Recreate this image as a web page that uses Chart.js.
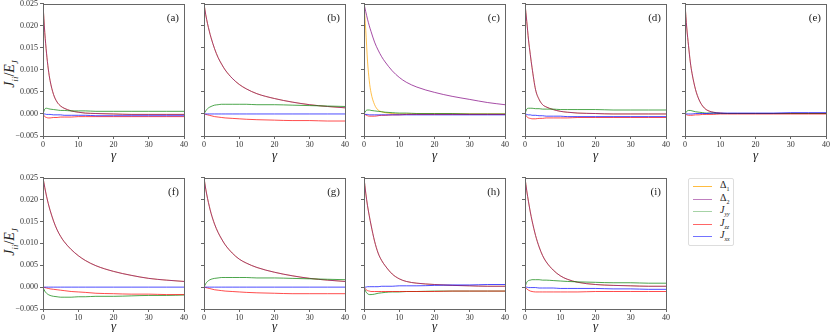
<!DOCTYPE html>
<html>
<head>
<meta charset="utf-8">
<script src="https://cdn.jsdelivr.net/npm/chart.js@4"></script>
<style>
  body { margin: 0; width: 830px; height: 332px; background: #fff; position: relative; overflow: hidden; font-family: "Liberation Serif", "DejaVu Serif", serif; }
  canvas { position: absolute; }
  .ylab { position: absolute; width: 70px; height: 16px; line-height: 16px; text-align: center; font-size: 14px; transform: rotate(-90deg); transform-origin: center; color: #222; }
  .ylab sub { font-size: 9px; }
  #legend { position: absolute; left: 688px; top: 178px; width: 44px; height: 66px; border: 1px solid #ddd; border-radius: 2px; font-size: 10px; color: #222; }
  #legend .row { position: absolute; left: 4px; height: 12px; width: 40px; }
  #legend .swatch { position: absolute; left: 0; top: 6px; width: 19px; height: 1px; }
  #legend .txt { position: absolute; left: 27px; top: -1px; line-height: 12px; white-space: nowrap; }
  #legend sub { font-size: 6px; }
</style>
</head>
<body>
<div class="ylab" style="left:-25px; top:66px;"><i>J<sub>ii</sub></i>/<i>E<sub>J</sub></i></div>
<div class="ylab" style="left:-25px; top:234px;"><i>J<sub>ii</sub></i>/<i>E<sub>J</sub></i></div>
<div id="legend"></div>
<script>
// gamma sample points (x axis)
const gamma = [0, 0.5, 1, 1.5, 2, 3, 4, 5, 6, 8, 10, 12, 15, 20, 25, 30, 35, 40];

const panelLabels = ['(a)', '(b)', '(c)', '(d)', '(e)', '(f)', '(g)', '(h)', '(i)'];
const seriesNames = ['Δ1', 'Δ2', 'Jyy', 'Jzz', 'Jxx'];
const seriesColors = ['rgba(255,165,0,0.7)', 'rgba(128,0,128,0.7)', 'rgba(0,128,0,0.7)', 'rgba(255,0,0,0.7)', 'rgba(0,0,255,0.7)'];
const legendColors = ['rgba(255,165,0,0.75)', 'rgba(128,0,128,0.5)', 'rgba(0,128,0,0.35)', 'rgba(255,0,0,0.6)', 'rgba(0,0,255,0.55)'];

const flatZero = [0, 0, 0, 0, 0, 0, 0, 0, 0, 0, 0, 0, 0, 0, 0, 0, 0, 0];

// (a)
const aDelta = [0.025, 0.0185, 0.0138, 0.0102, 0.0076, 0.0044, 0.0027, 0.0018, 0.0013, 0.0007, 0.0004, 0.0002, 0.0001, 0.0, -0.0001, -0.0001, -0.0001, -0.0001];
const aJyy = [0, 0.0011, 0.0013, 0.0012, 0.0011, 0.001, 0.0009, 0.0008, 0.0008, 0.0007, 0.0007, 0.0007, 0.0006, 0.0006, 0.0006, 0.0006, 0.0006, 0.0006];
const aJzz = [0, -0.0006, -0.0008, -0.0009, -0.0009, -0.0008, -0.0008, -0.0007, -0.0007, -0.0007, -0.0006, -0.0006, -0.0006, -0.0006, -0.0006, -0.0006, -0.0006, -0.0006];
const aJxx = [0, 0, -0.0001, -0.0001, -0.0001, -0.0002, -0.0002, -0.0002, -0.0003, -0.0003, -0.0003, -0.0003, -0.0004, -0.0004, -0.0004, -0.0004, -0.0004, -0.0004];
// (b)
const bDelta = [0.025, 0.0225, 0.0205, 0.0188, 0.0173, 0.0148, 0.0128, 0.0113, 0.01, 0.0081, 0.0067, 0.0057, 0.0046, 0.0035, 0.0027, 0.0021, 0.0017, 0.0014];
const bJyy = [0, 0.0007, 0.0012, 0.0015, 0.0017, 0.002, 0.0021, 0.0022, 0.0022, 0.0022, 0.0022, 0.0022, 0.0021, 0.0021, 0.002, 0.0019, 0.0018, 0.0017];
const bJzz = [0, -0.0001, -0.0002, -0.0003, -0.0004, -0.0006, -0.0007, -0.0008, -0.0009, -0.001, -0.0011, -0.0012, -0.0013, -0.0014, -0.0015, -0.0015, -0.0016, -0.0016];
// (c)
const cDelta1 = [0.025, 0.019, 0.012, 0.0075, 0.0048, 0.0021, 0.0009, 0.0005, 0.0003, 0.0001, 0, 0, 0, 0, 0, 0, 0, 0];
const cDelta2 = [0.025, 0.0232, 0.0215, 0.02, 0.0187, 0.0163, 0.0145, 0.013, 0.0118, 0.0098, 0.0083, 0.0072, 0.0061, 0.0049, 0.004, 0.0033, 0.0026, 0.0021];
const cJyy = [0, 0.0007, 0.0009, 0.0009, 0.0008, 0.0007, 0.0006, 0.0005, 0.0004, 0.0003, 0.0002, 0.0002, 0.0001, 0.0001, 0.0001, 0, 0, 0];
const cJzz = [0, -0.0002, -0.0004, -0.0005, -0.0005, -0.0005, -0.0004, -0.0003, -0.0003, -0.0002, -0.0002, -0.0001, -0.0001, -0.0001, -0.0001, -0.0001, -0.0001, -0.0001];
const cJxx = [0, -0.0001, -0.0001, -0.0002, -0.0002, -0.0002, -0.0002, -0.0002, -0.0002, -0.0002, -0.0002, -0.0002, -0.0002, -0.0002, -0.0002, -0.0002, -0.0002, -0.0002];
// (d)
const dDelta = [0.025, 0.021, 0.0168, 0.0135, 0.0105, 0.0055, 0.0033, 0.0021, 0.0016, 0.001, 0.0006, 0.0004, 0.0002, 0.0001, 0, 0, 0, 0];
const dJyy = [0, 0.0011, 0.0013, 0.0013, 0.0013, 0.0012, 0.0012, 0.0011, 0.0011, 0.0011, 0.001, 0.001, 0.001, 0.001, 0.0009, 0.0009, 0.0009, 0.0009];
const dJzz = [0, -0.0006, -0.0009, -0.001, -0.0011, -0.0011, -0.001, -0.001, -0.0009, -0.0009, -0.0009, -0.0009, -0.0008, -0.0008, -0.0008, -0.0008, -0.0008, -0.0008];
const dJxx = [0, -0.0001, -0.0002, -0.0002, -0.0003, -0.0003, -0.0004, -0.0004, -0.0005, -0.0005, -0.0005, -0.0006, -0.0006, -0.0006, -0.0006, -0.0006, -0.0006, -0.0006];
// (e)
const eDelta = [0.025, 0.0195, 0.0155, 0.0118, 0.0092, 0.0055, 0.0032, 0.0018, 0.001, 0.0004, 0.0002, 0.0001, 0.0001, 0.0001, 0.0001, 0.0001, 0.0001, 0.0001];
const eJyy = [0, 0.0006, 0.0008, 0.0008, 0.0007, 0.0005, 0.0004, 0.0003, 0.0002, 0.0002, 0.0001, 0.0001, 0.0001, 0.0001, 0.0001, 0.0001, 0.0001, 0.0001];
const eJzz = [0, -0.0002, -0.0003, -0.0003, -0.0003, -0.0002, -0.0002, -0.0001, -0.0001, -0.0001, 0, 0, 0, 0, 0, 0, 0, 0];
const eJxx = [0, 0, 0, 0, 0, 0.0001, 0.0001, 0.0001, 0.0001, 0.0002, 0.0002, 0.0002, 0.0002, 0.0002, 0.0002, 0.0003, 0.0003, 0.0003];
// (f)
const fDelta = [0.025, 0.0228, 0.0208, 0.0191, 0.0176, 0.0151, 0.0131, 0.0116, 0.0104, 0.0086, 0.0072, 0.0061, 0.0049, 0.0036, 0.0027, 0.002, 0.0016, 0.0013];
const fJyy = [0, -0.0009, -0.0014, -0.0017, -0.0019, -0.0021, -0.0022, -0.0023, -0.0023, -0.0023, -0.0022, -0.0022, -0.0021, -0.0021, -0.002, -0.0019, -0.0019, -0.0018];
const fJzz = [0, -0.0001, -0.0002, -0.0003, -0.0004, -0.0005, -0.0006, -0.0007, -0.0008, -0.001, -0.0011, -0.0012, -0.0014, -0.0015, -0.0016, -0.0016, -0.0017, -0.0017];
// (g)
const gDelta = [0.025, 0.0224, 0.0203, 0.0185, 0.0169, 0.0144, 0.0125, 0.011, 0.0097, 0.0078, 0.0064, 0.0055, 0.0045, 0.0034, 0.0026, 0.002, 0.0016, 0.0013];
const gJyy = [0, 0.0008, 0.0013, 0.0016, 0.0018, 0.002, 0.0021, 0.0022, 0.0022, 0.0022, 0.0022, 0.0022, 0.0021, 0.0021, 0.002, 0.0019, 0.0018, 0.0017];
const gJzz = [0, -0.0001, -0.0002, -0.0003, -0.0004, -0.0006, -0.0007, -0.0008, -0.0009, -0.001, -0.0011, -0.0012, -0.0013, -0.0014, -0.0015, -0.0015, -0.0015, -0.0015];
// (h)
const hDelta = [0.025, 0.0215, 0.0186, 0.0163, 0.0142, 0.0105, 0.0078, 0.0061, 0.0049, 0.003, 0.0019, 0.0013, 0.0009, 0.0006, 0.0004, 0.0003, 0.0002, 0.0002];
const hJyy = [0, -0.001, -0.0015, -0.0017, -0.0017, -0.0016, -0.0014, -0.0013, -0.0012, -0.0011, -0.0011, -0.001, -0.001, -0.0009, -0.0009, -0.0009, -0.0009, -0.0009];
const hJzz = [0, -0.0005, -0.0008, -0.0009, -0.001, -0.001, -0.001, -0.001, -0.001, -0.001, -0.001, -0.001, -0.001, -0.001, -0.0009, -0.0009, -0.0009, -0.0009];
const hJxx = [0, 0, 0.0001, 0.0001, 0.0001, 0.0001, 0.0001, 0.0002, 0.0002, 0.0002, 0.0003, 0.0003, 0.0003, 0.0004, 0.0005, 0.0005, 0.0006, 0.0006];
// (i)
const iDelta = [0.025, 0.022, 0.0195, 0.0172, 0.0152, 0.0118, 0.0092, 0.0072, 0.0058, 0.0039, 0.0026, 0.0018, 0.0011, 0.0006, 0.0004, 0.0003, 0.0002, 0.0002];
const iJyy = [0, 0.0011, 0.0015, 0.0016, 0.0017, 0.0017, 0.0017, 0.0016, 0.0016, 0.0015, 0.0014, 0.0013, 0.0012, 0.0011, 0.001, 0.001, 0.0009, 0.0009];
const iJzz = [0, -0.0004, -0.0007, -0.0009, -0.001, -0.0011, -0.0011, -0.0011, -0.0011, -0.0011, -0.0011, -0.0011, -0.0011, -0.001, -0.001, -0.001, -0.001, -0.001];
const iJxx = [0, 0, -0.0001, -0.0001, -0.0001, -0.0001, -0.0002, -0.0002, -0.0002, -0.0002, -0.0003, -0.0003, -0.0003, -0.0003, -0.0004, -0.0004, -0.0005, -0.0005];

// order per panel: Δ1, Δ2, Jyy, Jzz, Jxx
const panelSeries = [
  [aDelta, aDelta, aJyy, aJzz, aJxx],
  [bDelta, bDelta, bJyy, bJzz, flatZero],
  [cDelta1, cDelta2, cJyy, cJzz, cJxx],
  [dDelta, dDelta, dJyy, dJzz, dJxx],
  [eDelta, eDelta, eJyy, eJzz, eJxx],
  [fDelta, fDelta, fJyy, fJzz, flatZero],
  [gDelta, gDelta, gJyy, gJzz, flatZero],
  [hDelta, hDelta, hJyy, hJzz, hJxx],
  [iDelta, iDelta, iJyy, iJzz, iJxx]
];

const FONT = '"Liberation Serif", "DejaVu Serif", serif';
const AX = '#666';

// frame box + panel letter
const framePlugin = {
  id: 'frame',
  afterDraw(chart, args, opts) {
    const { ctx, chartArea: a } = chart;
    ctx.save();
    ctx.strokeStyle = AX;
    ctx.lineWidth = 1;
    ctx.strokeRect(Math.round(a.left) + 0.5, Math.round(a.top) + 0.5, Math.round(a.right - a.left), Math.round(a.bottom - a.top));
    ctx.fillStyle = '#222';
    ctx.font = '11px ' + FONT;
    ctx.textAlign = 'right';
    ctx.textBaseline = 'middle';
    ctx.fillText(opts.label, a.right - 5, a.top + 14);
    ctx.restore();
  }
};

const colLeft = [43, 203.5, 364, 524.5, 685];
const rowTop = [3, 177];
const plotW = 141, plotH = [133, 132];
const xAxisH = [27, 25];

panelSeries.forEach((series, p) => {
  const col = p < 5 ? p : p - 5;
  const row = p < 5 ? 0 : 1;
  const showY = col === 0;
  const cv = document.createElement('canvas');
  const W = 40 + plotW + 7, H = 6 + plotH[row] + xAxisH[row];
  cv.width = W; cv.height = H;
  cv.style.left = Math.round(colLeft[col] - 40) + 'px';
  cv.style.top = (rowTop[row] - 6) + 'px';
  document.body.appendChild(cv);

  const datasets = series.map((vals, s) => ({
    label: seriesNames[s],
    data: gamma.map((g, k) => ({ x: g, y: vals[k] })),
    borderColor: seriesColors[s],
    borderWidth: 1,
    pointRadius: 0,
    fill: false,
    cubicInterpolationMode: 'monotone',
    order: 5 - s
  }));

  new Chart(cv, {
    type: 'line',
    data: { datasets },
    options: {
      responsive: false,
      animation: false,
      devicePixelRatio: 1,
      layout: { padding: { top: 6, right: 7, left: 0, bottom: 0 } },
      plugins: { legend: { display: false }, tooltip: { enabled: false }, frame: { label: panelLabels[p] } },
      scales: {
        x: {
          type: 'linear', min: 0, max: 40,
          afterFit: s => { s.height = xAxisH[row]; },
          ticks: { stepSize: 10, color: '#333', padding: 1, maxRotation: 0, font: { family: FONT, size: 8 } },
          grid: { drawOnChartArea: false, tickLength: 3, color: AX },
          border: { color: AX },
          title: { display: true, text: 'γ', color: '#222', padding: { top: 0, bottom: 0 }, font: { family: FONT, size: 13, style: 'italic' } }
        },
        y: {
          min: -0.005, max: 0.025,
          afterFit: s => { s.width = 40; },
          ticks: {
            stepSize: 0.005, color: '#333', padding: 2, font: { family: FONT, size: 8 },
            callback: v => showY ? v.toFixed(3).replace('-', '−') : ''
          },
          grid: { drawOnChartArea: false, tickLength: 3, color: AX },
          border: { color: AX }
        }
      }
    },
    plugins: [framePlugin]
  });
});

// legend
const legendTexts = ['Δ<sub>1</sub>', 'Δ<sub>2</sub>', '<i>J<sub>yy</sub></i>', '<i>J<sub>zz</sub></i>', '<i>J<sub>xx</sub></i>'];
const legend = document.getElementById('legend');
legendTexts.forEach((t, s) => {
  const r = document.createElement('div');
  r.className = 'row';
  r.style.top = (1 + s * 12.6) + 'px';
  r.innerHTML = '<div class="swatch" style="background:' + legendColors[s] + '"></div><div class="txt">' + t + '</div>';
  legend.appendChild(r);
});
</script>
</body>
</html>
